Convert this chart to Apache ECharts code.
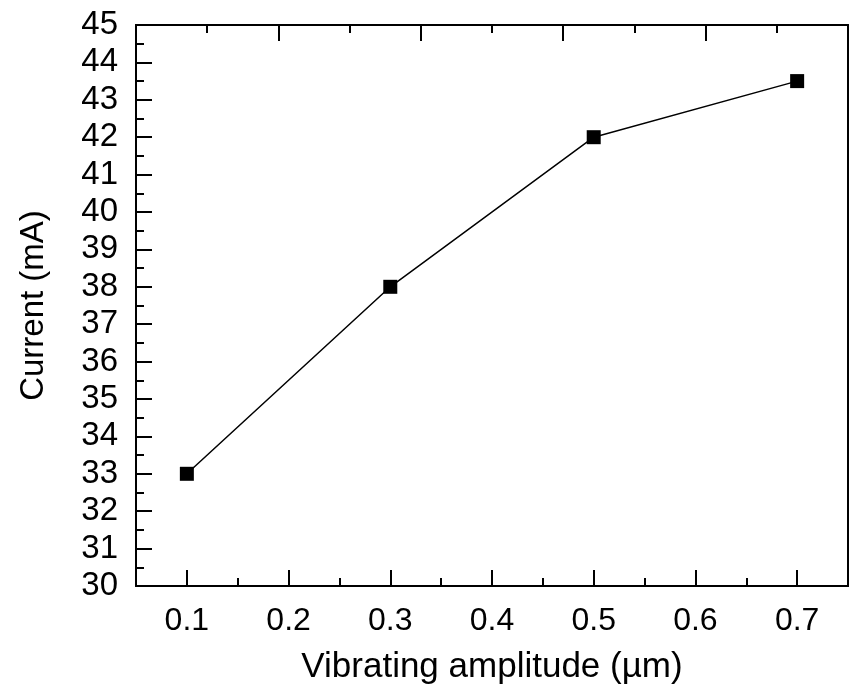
<!DOCTYPE html>
<html><head><meta charset="utf-8">
<script src="https://cdn.jsdelivr.net/npm/echarts@6/dist/echarts.min.js"></script>
<style>html,body{margin:0;padding:0;background:#fff}#c{width:849px;height:687px}</style>
</head><body><div id="c"></div>
<script>
const amplitude = [0.1, 0.3, 0.5, 0.7];
const current = [33, 38, 42, 43.5];
const xMajorTicks = [0.1, 0.2, 0.3, 0.4, 0.5, 0.6, 0.7];
const xMinorTicks = [0.15, 0.25, 0.35, 0.45, 0.55, 0.65];
const topMajorTicks = [0.19, 0.33, 0.47, 0.61];
const topMinorTicks = [0.12, 0.26, 0.40, 0.54, 0.68];
const xTitle = 'Vibrating amplitude (µm)';
const yTitle = 'Current (mA)';

const FONT = 'Liberation Sans, Arial, sans-serif';
const grid = {left: 136, top: 25, right: 1, bottom: 101, containLabel: false, outerBoundsMode: 'none'};
const line = {show: true, lineStyle: {color: '#000', width: 2}};
function xAx(pos, gi, ticks, len, labels) {
  return {
    type: 'value', gridIndex: gi, position: pos, min: 0.05, max: 0.75,
    axisLine: line, splitLine: {show: false},
    axisTick: {show: true, inside: true, length: len, customValues: ticks, lineStyle: {color: '#000', width: 2}},
    axisLabel: labels ? {show: true, customValues: labels, formatter: v => v.toFixed(1), color: '#000', fontSize: 32, fontFamily: FONT, margin: 19} : {show: false},
    name: (labels && pos === 'bottom') ? xTitle : '',
    nameLocation: 'middle', nameGap: 64,
    nameTextStyle: {color: '#000', fontSize: 35, fontFamily: FONT}
  };
}
const chart = echarts.init(document.getElementById('c'), null, {renderer: 'canvas'});
chart.setOption({
  animation: false,
  backgroundColor: '#fff',
  grid: [grid, Object.assign({}, grid)],
  xAxis: [
    xAx('bottom', 0, xMajorTicks, 16, xMajorTicks),
    xAx('top', 0, topMajorTicks, 16, null),
    xAx('bottom', 1, xMinorTicks, 8, null),
    xAx('top', 1, topMinorTicks, 8, null)
  ],
  yAxis: [
    {type: 'value', gridIndex: 0, position: 'left', min: 30, max: 45, interval: 1,
     axisLine: line, splitLine: {show: false},
     axisTick: {show: true, inside: true, length: 16, lineStyle: {color: '#000', width: 2}},
     minorTick: {show: true, splitNumber: 2, length: 8, lineStyle: {color: '#000', width: 2}},
     axisLabel: {color: '#000', fontSize: 33, fontFamily: FONT, margin: 18},
     name: yTitle, nameLocation: 'middle', nameGap: 86, nameRotate: 90,
     nameTextStyle: {color: '#000', fontSize: 33, fontFamily: FONT}},
    {type: 'value', gridIndex: 0, position: 'right', min: 30, max: 45,
     axisLine: line, splitLine: {show: false}, axisTick: {show: false}, axisLabel: {show: false}},
    {type: 'value', gridIndex: 1, min: 30, max: 45, show: false}
  ],
  series: [{
    type: 'line', xAxisIndex: 0, yAxisIndex: 0,
    data: amplitude.map((x, i) => [x, current[i]]),
    symbol: 'rect', symbolSize: 14,
    itemStyle: {color: '#000'},
    lineStyle: {color: '#000', width: 1.5}
  }]
});
</script></body></html>
